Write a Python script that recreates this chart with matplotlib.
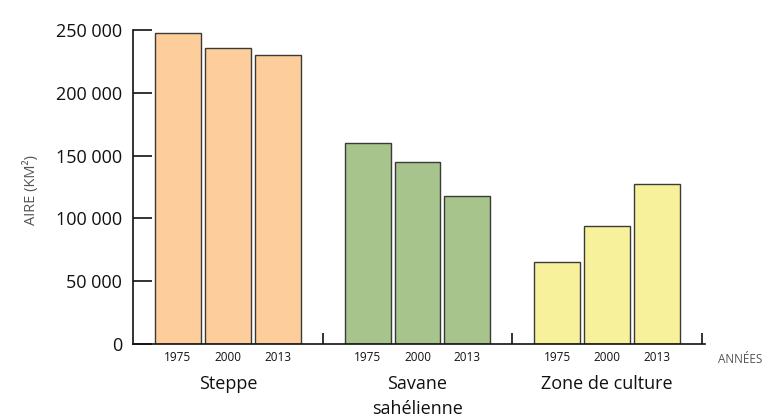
import matplotlib
matplotlib.use("Agg")
import matplotlib.pyplot as plt
from matplotlib.ticker import FuncFormatter
import matplotlib.transforms as mtransforms

plt.rcParams['font.family'] = ['Open Sans', 'DejaVu Sans']

categories = ["Steppe", "Savane\nsahélienne", "Zone de culture"]
years = ["1975", "2000", "2013"]
values = {
    "Steppe": [248000, 236000, 230000],
    "Savane\nsahélienne": [160000, 145000, 118000],
    "Zone de culture": [65000, 94000, 127000],
}
colors = ["#FDCD9B", "#A7C48D", "#F8F19B"]
yticks = [0, 50000, 100000, 150000, 200000, 250000]

fig = plt.figure(figsize=(7.69, 4.19), dpi=100)
ax = fig.add_axes([133/769, 1-344/419, 572/769, 314/419])

group_w = 3.8
step = 1.0
bar_w = 0.92
offset = 0.9

year_pos, year_lab = [], []
for g, cat in enumerate(categories):
    xs = [g*group_w + offset + k*step for k in range(len(years))]
    ax.bar(xs, values[cat], width=bar_w, color=colors[g], edgecolor="#3a3a3a", linewidth=1.0)
    year_pos += xs
    year_lab += years
    ax.text(g*group_w + offset + step, -0.1, cat, transform=mtransforms.blended_transform_factory(ax.transData, ax.transAxes),
            ha="center", va="top", fontsize=13, linespacing=1.45, color="#111111")

ax.set_xlim(0, 3*group_w + 0.06)
ax.set_ylim(0, 250000)
ax.set_yticks(yticks)
ax.yaxis.set_major_formatter(FuncFormatter(lambda v, p: f"{int(v):,}".replace(",", " ")))
ax.tick_params(axis="y", direction="in", length=14, width=1.2, labelsize=13, pad=8, colors="#111111")

ax.set_xticks(year_pos)
ax.set_xticklabels(year_lab)
ax.tick_params(axis="x", which="major", length=0, labelsize=8.5, pad=5, colors="#111111")
ax.set_xticks([group_w, 2*group_w, 3*group_w], minor=True)
ax.tick_params(axis="x", which="minor", direction="in", length=8, width=1.2, color="#111111")

for s in ["top", "right"]:
    ax.spines[s].set_visible(False)
for s in ["left", "bottom"]:
    ax.spines[s].set_linewidth(1.2)
    ax.spines[s].set_color("#111111")

ax.text(1.022, -0.028, "ANNÉES", transform=ax.transAxes, ha="left", va="top", fontsize=8.5, color="#555555")
fig.text(31/769, 1-190/419, "AIRE (KM²)", rotation=90, ha="center", va="center", fontsize=10.5, color="#555555")

fig.savefig("out.png", dpi=100)
